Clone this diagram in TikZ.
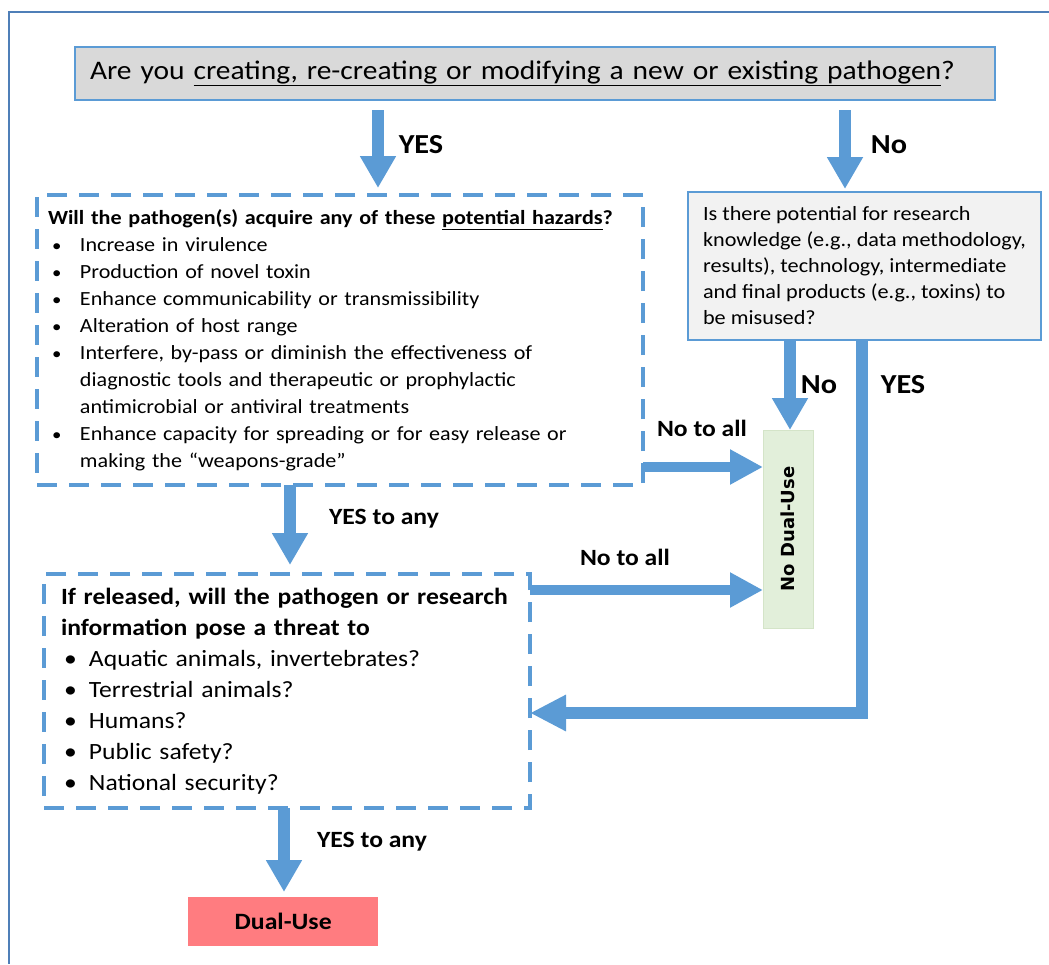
\documentclass[tikz,border=0pt]{standalone}
\usepackage{fontspec}
\setmainfont{Carlito}[FakeStretch=1.1]
\newfontfamily\dejavu{DejaVu Sans}
\usetikzlibrary{arrows.meta}
\definecolor{ablue}{HTML}{5B9BD5}
\definecolor{framecol}{HTML}{4F7FB8}
\definecolor{topfill}{HTML}{D9D9D9}
\definecolor{misfill}{HTML}{F2F2F2}
\definecolor{ndfill}{HTML}{E2EFDA}
\definecolor{ndline}{HTML}{D4E4C8}
\definecolor{dufill}{HTML}{FF7C80}
\newcommand{\bul}[1]{\par\noindent\hspace*{4pt}\makebox[28pt][l]{\scalebox{0.85}{\textbullet}}#1}
\newcommand{\cont}[1]{\par\noindent\hspace*{32pt}#1}
\newcommand{\bulb}[1]{\par\noindent\hspace*{3pt}\makebox[25pt][l]{\textbullet}#1}
\begin{document}
\begin{tikzpicture}[x=1pt,y=-1pt,
  fatv/.style={draw=ablue, line width=12pt, -{Triangle[width=34pt,length=32pt]}},
  fath/.style={draw=ablue, line width=10pt, -{Triangle[width=33pt,length=33pt]}},
  dashbox/.style={draw=ablue, line width=4.5pt, dash pattern=on 20pt off 12pt, anchor=north west, outer sep=0pt},
  solidbox/.style={draw=ablue, line width=1.5pt, anchor=north west, outer sep=0pt},
  lab/.style={font=\fontsize{27.5}{27.5}\selectfont\bfseries, inner sep=0pt},
  labc/.style={font=\fontsize{23.3}{23.3}\selectfont\bfseries, inner sep=0pt}
]
\useasboundingbox (0,0) rectangle (1049,964);
\draw[framecol, line width=1.5pt] (1049,12) -- (9,12) -- (9,964);

% boxes
\node[solidbox, fill=topfill, minimum width=920pt, minimum height=53pt,
  text width=890pt, inner xsep=15pt, align=left,
  font=\fontsize{26.8}{26.8}\selectfont] (top) at (75,47)
  {Are you \underline{creating, re-creating or modifying a new or existing pathogen}?};

\node[dashbox, minimum width=606pt, minimum height=290pt, text width=584pt,
  inner xsep=11pt, align=left, font=\fontsize{20.1}{27}\selectfont] (haz) at (37,195)
  {\noindent\textbf{Will the pathogen(s) acquire any of these \underline{potential hazards}?}
   \bul{Increase in virulence}
   \bul{Production of novel toxin}
   \bul{Enhance communicability or transmissibility}
   \bul{Alteration of host range}
   \bul{Interfere, by-pass or diminish the effectiveness of}
   \cont{diagnostic tools and therapeutic or prophylactic}
   \cont{antimicrobial or antiviral treatments}
   \bul{Enhance capacity for spreading or for easy release or}
   \cont{making the “weapons-grade”}};

\node[solidbox, fill=misfill, minimum width=353pt, minimum height=148pt,
  align=left, font=\fontsize{20.2}{26}\selectfont] (mis) at (688,192)
  {Is there potential for research\\knowledge (e.g., data methodology,\\results), technology, intermediate\\and final products (e.g., toxins) to\\be misused?};

\node[draw=ndline, line width=1pt, fill=ndfill, minimum width=50pt, minimum height=198pt,
  anchor=north west, outer sep=0pt] (nd) at (763,430) {};
\node[rotate=90, font=\dejavu\fontsize{18}{18}\selectfont\bfseries, inner sep=0pt] (ndt) at (nd.center) {No Dual-Use};

\node[dashbox, minimum width=486pt, minimum height=234pt, text width=452pt,
  inner xsep=17pt, align=left, font=\fontsize{23.3}{31}\selectfont] (thr) at (44,574)
  {\noindent\textbf{If released, will the pathogen or research}
   \par\noindent\textbf{information pose a threat to}
   \bulb{Aquatic animals, invertebrates?}
   \bulb{Terrestrial animals?}
   \bulb{Humans?}
   \bulb{Public safety?}
   \bulb{National security?}};

\node[fill=dufill, minimum width=190pt, minimum height=49pt, anchor=north west,
  font=\fontsize{23.4}{23.4}\selectfont\bfseries] (du) at (188,897) {Dual-Use};

% column coordinates
\coordinate (cyes) at (378,0);
\coordinate (cno) at (845,0);
\coordinate (cno2) at (790,0);
\coordinate (cyes2) at (862,0);
\coordinate (cany) at (290,0);
\coordinate (cany2) at (284,0);
\coordinate (rna) at (0,467);
\coordinate (rnb) at (0,590);
\coordinate (ryes) at (0,713);

% arrows
\draw[fatv, shorten <=10pt, shorten >=7pt] (top.south -| cyes) -- (haz.north -| cyes);
\draw[fatv, shorten <=10pt, shorten >=3pt] (top.south -| cno) -- (mis.north -| cno);
\draw[fatv] (mis.south -| cno2) -- (nd.north -| cno2);
\draw[fatv, shorten >=9pt] (haz.south -| cany) -- (thr.north -| cany);
\draw[fatv, shorten >=5pt] (thr.south -| cany2) -- (du.north -| cany2);
\draw[fath] (haz.east |- rna) -- (nd.west |- rna);
\draw[fath] (thr.east |- rnb) -- (nd.west |- rnb);
\draw[draw=ablue, line width=12pt, -{Triangle[width=34pt,length=36pt]}]
  (mis.south -| cyes2) -- (cyes2 |- ryes) -- (thr.east |- ryes);

% labels
\node[lab] (l1) at (421,145) {YES};
\node[lab] (l2) at (889,145) {No};
\node[lab] (l3) at (819,385) {No};
\node[lab] (l4) at (903,385) {YES};
\node[labc] (l5) at (702,428) {No to all};
\node[labc] (l6) at (625,557) {No to all};
\node[labc] (l7) at (384,519) {YES to any};
\node[labc] (l8) at (372,842) {YES to any};
\end{tikzpicture}
\end{document}
